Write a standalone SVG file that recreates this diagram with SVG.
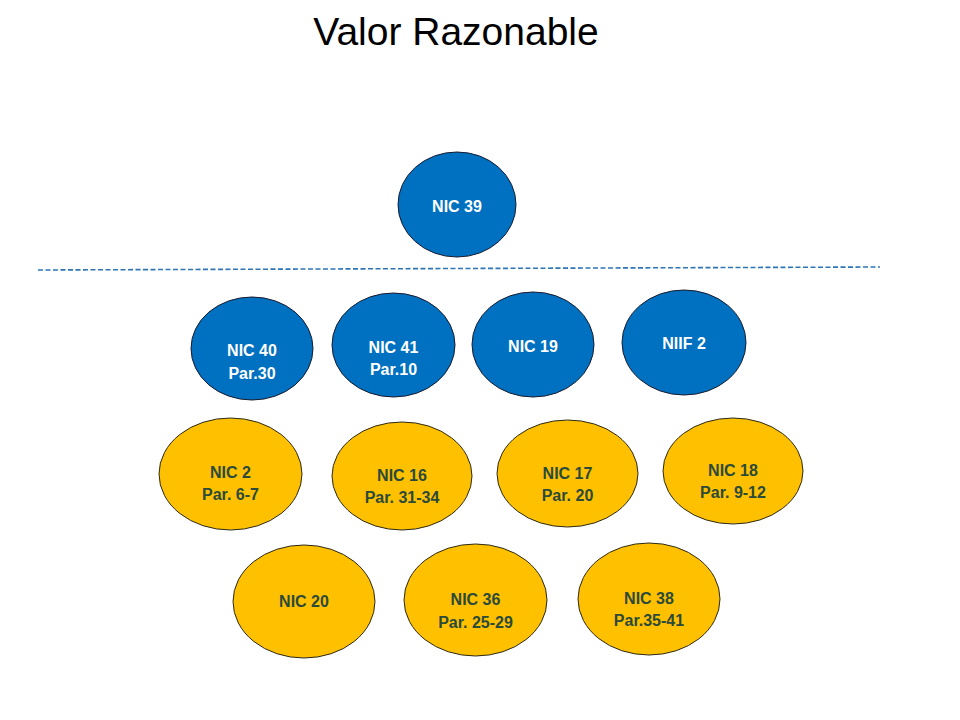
<svg xmlns="http://www.w3.org/2000/svg" width="960" height="720" viewBox="0 0 960 720">
<style>
.b{fill:#0070c0;stroke:#1a1a2e;stroke-width:1}
.y{fill:#ffc000;stroke:#2a2a1a;stroke-width:1}
.tb{font-family:"Liberation Sans",Arial,sans-serif;font-weight:bold;font-size:16px;fill:#ffffff;text-anchor:middle;dominant-baseline:central}
.ty{font-family:"Liberation Sans",Arial,sans-serif;font-weight:bold;font-size:16px;fill:#2b4a3a;text-anchor:middle;dominant-baseline:central}
</style>
<rect width="960" height="720" fill="#ffffff"/>
<text x="456" y="45" font-family="'Liberation Sans',Arial,sans-serif" font-size="39" text-anchor="middle" fill="#000000">Valor Razonable</text>
<g id="connectors">
<line x1="38" y1="270" x2="880" y2="267" stroke="#2e75b6" stroke-width="1.6" stroke-dasharray="5,2.5"/>
</g>
<g id="nic39"><ellipse class="b" cx="457" cy="204.5" rx="59" ry="52.5"/><text class="tb" x="457" y="206">NIC 39</text></g>
<g id="nic40"><ellipse class="b" cx="252" cy="348.5" rx="61" ry="51.5"/><text class="tb" x="252" y="350">NIC 40</text><text class="tb" x="252" y="373">Par.30</text></g>
<g id="nic41"><ellipse class="b" cx="393.5" cy="345" rx="61.5" ry="52"/><text class="tb" x="393.5" y="347">NIC 41</text><text class="tb" x="393.5" y="369">Par.10</text></g>
<g id="nic19"><ellipse class="b" cx="533" cy="344.5" rx="61" ry="52.5"/><text class="tb" x="533" y="346">NIC 19</text></g>
<g id="niif2"><ellipse class="b" cx="684" cy="342.5" rx="62" ry="52.5"/><text class="tb" x="684" y="343">NIIF 2</text></g>
<g id="nic2"><ellipse class="y" cx="230.5" cy="474" rx="71.5" ry="56"/><text class="ty" x="230.5" y="472">NIC 2</text><text class="ty" x="230.5" y="494">Par. 6-7</text></g>
<g id="nic16"><ellipse class="y" cx="402" cy="476" rx="70" ry="54"/><text class="ty" x="402" y="475">NIC 16</text><text class="ty" x="402" y="497">Par. 31-34</text></g>
<g id="nic17"><ellipse class="y" cx="567.5" cy="473.5" rx="70.5" ry="53.5"/><text class="ty" x="567.5" y="473">NIC 17</text><text class="ty" x="567.5" y="495">Par. 20</text></g>
<g id="nic18"><ellipse class="y" cx="733" cy="471" rx="70" ry="53"/><text class="ty" x="733" y="470">NIC 18</text><text class="ty" x="733" y="492">Par. 9-12</text></g>
<g id="nic20"><ellipse class="y" cx="304" cy="601.5" rx="71" ry="56.5"/><text class="ty" x="304" y="601">NIC 20</text></g>
<g id="nic36"><ellipse class="y" cx="475.5" cy="600" rx="71.5" ry="56"/><text class="ty" x="475.5" y="599">NIC 36</text><text class="ty" x="475.5" y="622">Par. 25-29</text></g>
<g id="nic38"><ellipse class="y" cx="649" cy="599" rx="71" ry="56"/><text class="ty" x="649" y="598">NIC 38</text><text class="ty" x="649" y="620">Par.35-41</text></g>
</svg>
